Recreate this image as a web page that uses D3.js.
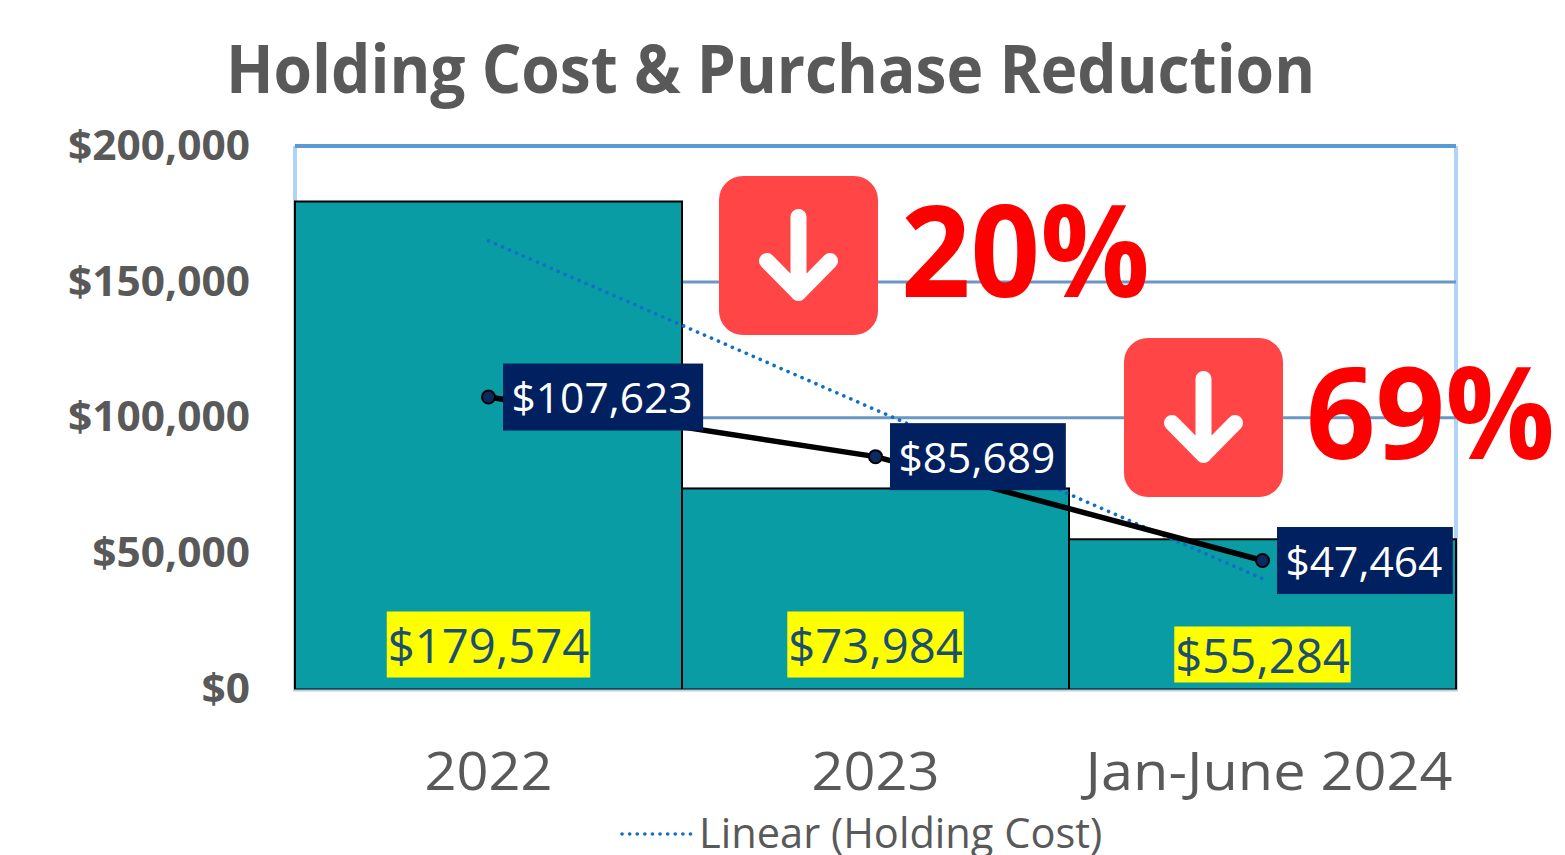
<!DOCTYPE html>
<html>
<head>
<meta charset="utf-8">
<title>Holding Cost & Purchase Reduction</title>
<script src="https://cdn.jsdelivr.net/npm/d3@7"></script>
<style>
    html, body { margin: 0; padding: 0; background: #fff; overflow: hidden; }
    svg { display: block; }
    text { font-family: "Open Sans", sans-serif; }
    .axis .domain, .axis line { display: none; }
</style>
</head>
<body>
<div id="chart"></div>
<script>
// Chart values
const categories = ['2022', '2023', 'Jan-June 2024'];
const purchaseValues = [179574, 73984, 55284];
const holdingCost = [107623, 85689, 47464];
const holdingTrend = [165092, 102947, 40802];
const yTicks = [0, 50000, 100000, 150000, 200000];
const callouts = ['20%', '69%'];
const legendLabel = 'Linear (Holding Cost)';
const titleText = 'Holding Cost & Purchase Reduction';

const width = 1565, height = 855;
const margin = { top: 146, right: 109, bottom: 165.5, left: 295 };

const svg = d3.select('#chart').append('svg')
    .attr('width', width)
    .attr('height', height);

const x = d3.scaleBand().domain(categories).range([margin.left, width - margin.right]);
const y = d3.scaleLinear().domain([0, 200000]).range([height - margin.bottom, margin.top]);
const money = d3.format('$,');
const center = d => x(d) + x.bandwidth() / 2;

// squeeze the fallback font to the width the label has in the picture
function squeeze(sel, k) {
    sel.each(function(d, i) {
        const factor = typeof k === 'function' ? k(d, i) : k;
        d3.select(this)
            .attr('textLength', this.getComputedTextLength() * factor)
            .attr('lengthAdjust', 'spacingAndGlyphs');
    });
}

// Title
svg.append('text')
    .attr('x', 770.5)
    .attr('y', 93)
    .attr('text-anchor', 'middle')
    .attr('font-size', 66)
    .attr('font-weight', 700)
    .attr('fill', '#595959')
    .text(titleText)
    .call(squeeze, 0.943);

// Plot frame and gridlines
svg.selectAll('.side')
    .data([margin.left, width - margin.right])
    .join('line')
    .attr('class', 'side')
    .attr('x1', d => d).attr('x2', d => d)
    .attr('y1', y(200000)).attr('y2', y(0))
    .attr('stroke', '#b0d4f8')
    .attr('stroke-width', 4);

svg.selectAll('.grid')
    .data(yTicks.slice(1))
    .join('line')
    .attr('class', 'grid')
    .attr('x1', margin.left).attr('x2', width - margin.right)
    .attr('y1', d => y(d)).attr('y2', d => y(d))
    .attr('stroke', d => d === 200000 ? '#5b9bd5' : '#6a97c4')
    .attr('stroke-width', d => d === 200000 ? 4 : 3);

// Bars
svg.selectAll('.bar')
    .data(categories)
    .join('rect')
    .attr('class', 'bar')
    .attr('x', d => x(d))
    .attr('width', x.bandwidth())
    .attr('y', (d, i) => y(purchaseValues[i]))
    .attr('height', (d, i) => y(0) - y(purchaseValues[i]))
    .attr('fill', '#0a9ca4')
    .attr('stroke', '#000')
    .attr('stroke-width', 2);

svg.append('line')
    .attr('x1', margin.left - 2).attr('x2', width - margin.right + 2)
    .attr('y1', y(0) + 1).attr('y2', y(0) + 1)
    .attr('stroke', '#bcd0e2')
    .attr('stroke-width', 2);

// Axes
const yAxis = svg.append('g')
    .attr('class', 'axis')
    .attr('transform', 'translate(250, 0)')
    .call(d3.axisLeft(y).tickValues(yTicks).tickFormat(money).tickSize(0).tickPadding(0));
yAxis.selectAll('text')
    .attr('font-size', 41)
    .attr('font-weight', 700)
    .attr('fill', '#595959')
    .call(squeeze, 1.035);

const xAxis = svg.append('g')
    .attr('class', 'axis')
    .attr('transform', `translate(0, ${y(0)})`)
    .call(d3.axisBottom(x).tickSize(0).tickPadding(0));
xAxis.selectAll('text')
    .attr('y', 100.5)
    .attr('dy', 0)
    .attr('font-size', 53)
    .attr('fill', '#595959')
    .call(squeeze, d => d === categories[2] ? 1.088 : 1.056);
xAxis.selectAll('.tick').filter(d => d === categories[2])
    .select('text').attr('dx', 6.5);

// Trend and holding cost lines
const lineGen = d3.line().x(d => center(d.cat)).y(d => y(d.value));

svg.append('path')
    .datum(categories.map((cat, i) => ({ cat, value: holdingTrend[i] })))
    .attr('d', lineGen)
    .attr('fill', 'none')
    .attr('stroke', '#0f6fc6')
    .attr('stroke-width', 3.6)
    .attr('stroke-linecap', 'round')
    .attr('stroke-dasharray', '0.1 7.5');

const holdingPoints = categories.map((cat, i) => ({ cat, value: holdingCost[i] }));

svg.append('path')
    .datum(holdingPoints)
    .attr('d', lineGen)
    .attr('fill', 'none')
    .attr('stroke', '#000')
    .attr('stroke-width', 5.5);

svg.selectAll('.dot')
    .data(holdingPoints)
    .join('circle')
    .attr('class', 'dot')
    .attr('cx', d => center(d.cat))
    .attr('cy', d => y(d.value))
    .attr('r', 6.5)
    .attr('fill', '#0b2a63')
    .attr('stroke', '#000')
    .attr('stroke-width', 2);

// Holding cost labels (navy boxes)
const holdingLabels = svg.selectAll('.holding-label')
    .data(holdingPoints)
    .join('g')
    .attr('class', 'holding-label')
    .attr('transform', d => `translate(${center(d.cat) + 14.5}, ${y(d.value)})`);

holdingLabels.append('text')
    .attr('x', 8.5)
    .attr('y', 16)
    .attr('font-size', 42)
    .attr('fill', '#fff')
    .text(d => money(d.value))
    .call(squeeze, 1.012);

holdingLabels.insert('rect', 'text')
    .attr('y', -33.5)
    .attr('height', 67)
    .attr('width', function() {
        return this.parentNode.querySelector('text').getComputedTextLength() + 19;
    })
    .attr('fill', '#002060');

// Purchase labels (yellow boxes); the last one sits lower in the bar
const purchaseRise = [45, 45, 35];
const purchaseHeight = [66, 66, 56];

const purchaseLabels = svg.selectAll('.purchase-label')
    .data(categories)
    .join('g')
    .attr('class', 'purchase-label')
    .attr('transform', (d, i) => `translate(${center(d)}, ${y(0) - purchaseRise[i]})`);

purchaseLabels.append('text')
    .attr('text-anchor', 'middle')
    .attr('y', 18)
    .attr('font-size', 48)
    .attr('fill', '#1b4f72')
    .text((d, i) => money(purchaseValues[i]))
    .call(squeeze, 0.985);

purchaseLabels.insert('rect', 'text')
    .each(function(d, i) {
        const w = this.parentNode.querySelector('text').getComputedTextLength() + 2;
        d3.select(this)
            .attr('x', -w / 2)
            .attr('width', w)
            .attr('y', -purchaseHeight[i] / 2)
            .attr('height', purchaseHeight[i]);
    })
    .attr('fill', '#ffff00');

// Reduction callouts
const calloutGroups = svg.selectAll('.callout')
    .data(callouts)
    .join('g')
    .attr('class', 'callout')
    .attr('transform', (d, i) => `translate(${719 + i * 405}, ${176 + i * 162})`);

calloutGroups.append('rect')
    .attr('width', 159)
    .attr('height', 159)
    .attr('rx', 24)
    .attr('fill', '#ff4545');

calloutGroups.append('path')
    .attr('d', 'M79.5 41V117M48 85L79.5 117L111 85')
    .attr('fill', 'none')
    .attr('stroke', '#fff')
    .attr('stroke-width', 16)
    .attr('stroke-linecap', 'round')
    .attr('stroke-linejoin', 'round');

calloutGroups.append('text')
    .attr('x', 182)
    .attr('y', 121)
    .attr('font-size', 127)
    .attr('font-weight', 700)
    .attr('fill', '#ff0000')
    .text(d => d)
    .call(squeeze, 0.958);

// Legend
svg.append('line')
    .attr('x1', 622).attr('x2', 692)
    .attr('y1', 834).attr('y2', 834)
    .attr('stroke', '#0f6fc6')
    .attr('stroke-width', 3.6)
    .attr('stroke-linecap', 'round')
    .attr('stroke-dasharray', '0.1 7.5');

svg.append('text')
    .attr('x', 699)
    .attr('y', 848)
    .attr('font-size', 42)
    .attr('fill', '#595959')
    .text(legendLabel)
    .call(squeeze, 0.99);
</script>
</body>
</html>
